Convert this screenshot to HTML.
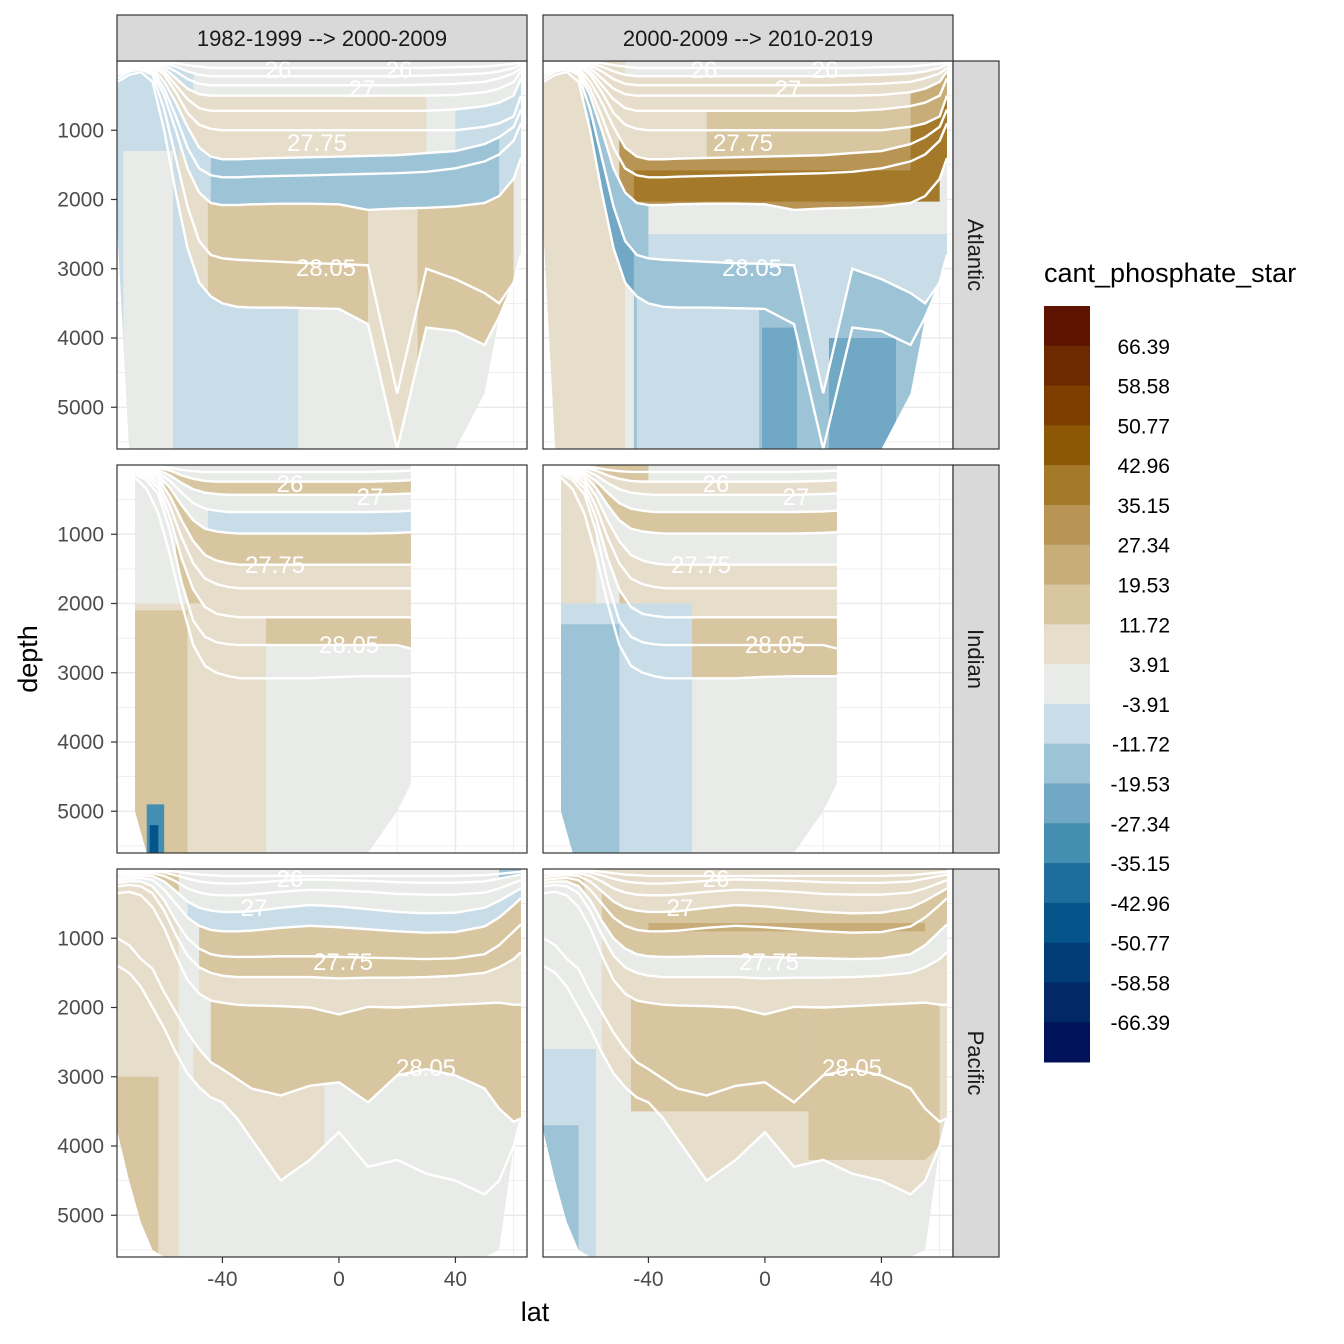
<!DOCTYPE html>
<html><head><meta charset="utf-8">
<style>
body{margin:0;background:#fff;}
svg{display:block;font-family:"Liberation Sans",Arial,sans-serif;}
</style></head>
<body>
<svg id="chart" width="1344" height="1344" viewBox="0 0 1344 1344" xmlns="http://www.w3.org/2000/svg">
<rect x="0" y="0" width="1344" height="1344" fill="#fff"/>
<g id="panels"></g>
<g id="axes"></g>
<g id="legend"></g>
</svg>
<script>
// ---------- data ----------
const colors = ["#5e1300","#6d2a00","#7d3e00","#8c5805","#a47929","#b89555","#c8ad78","#d8c6a0","#e7ddcb","#e9ebe8","#c9dde8","#9cc3d6","#70a8c5","#448eb2","#1d6e9c","#05558a","#023d78","#022966","#00125a"];
const legendLabels = ["66.39","58.58","50.77","42.96","35.15","27.34","19.53","11.72","3.91","-3.91","-11.72","-19.53","-27.34","-35.15","-42.96","-50.77","-58.58","-66.39"];
const colTitles = ["1982-1999 --> 2000-2009","2000-2009 --> 2010-2019"];
const rowTitles = ["Atlantic","Indian","Pacific"];
const depthTicks = [1000,2000,3000,4000,5000];
const latTicks = [-40,0,40];

const latA = [-76,-72,-68,-64,-60,-56,-52,-48,-44,-40,-35,-30,-20,-10,0,10,20,30,40,50,55,60,62.5];
const bottomA = [2500,5600,5600,5600,5600,5600,5600,5600,5600,5600,5600,5600,5600,5600,5600,5600,5600,5600,5600,4800,3700,3200,2800];
const linesA = [
[20,10,5,5,10,30,60,80,100,100,100,100,100,100,100,100,100,100,90,80,60,40,20],
[40,20,10,10,30,80,150,200,220,220,220,220,220,220,220,220,220,210,200,180,150,100,50],
[60,30,20,20,60,150,260,330,350,350,350,350,350,350,350,350,350,340,330,300,250,180,100],
[80,40,30,30,100,250,400,480,500,500,500,500,500,500,500,500,500,500,490,450,400,300,150],
[100,50,40,50,150,350,550,680,720,720,720,720,720,720,720,720,720,720,700,650,600,500,250],
[120,60,50,70,200,450,750,920,980,1000,1000,1000,1000,1000,1000,1000,1000,1000,1000,950,900,800,500],
[150,80,60,100,300,600,950,1250,1380,1420,1420,1410,1400,1390,1380,1370,1360,1330,1300,1200,1100,950,700],
[180,100,80,130,400,800,1250,1550,1650,1680,1680,1670,1660,1650,1640,1630,1620,1600,1550,1450,1350,1150,900],
[200,120,100,160,500,1000,1550,1900,2050,2080,2080,2070,2060,2060,2070,2150,2130,2120,2100,2050,1950,1700,1400],
[250,150,120,200,700,1400,2100,2600,2800,2850,2870,2880,2900,2920,2930,2950,4800,3000,3150,3350,3500,3600,3600],
[300,200,160,300,1000,1900,2700,3200,3400,3500,3550,3560,3560,3570,3580,3800,5600,3850,3900,4100,4300,4500,4500]];

const latI = [-70,-66,-62,-58,-54,-50,-46,-42,-38,-34,-30,-20,-10,0,10,20,24.7];
const bottomI = [5000,5600,5600,5600,5600,5600,5600,5600,5600,5600,5600,5600,5600,5600,5600,5000,4600];
const linesI = [
[10,10,20,40,70,90,100,100,100,100,100,100,100,100,100,90,80],
[20,20,40,80,150,200,230,240,240,240,240,240,240,240,240,230,220],
[30,40,70,150,260,350,400,420,430,430,430,430,430,430,430,420,410],
[40,60,110,230,400,550,630,660,680,680,680,680,680,680,680,670,660],
[50,80,150,330,580,800,920,960,980,990,990,990,990,990,990,980,970],
[60,100,200,450,800,1100,1300,1380,1420,1440,1440,1440,1440,1440,1440,1440,1440],
[80,130,260,600,1050,1420,1640,1720,1760,1780,1780,1780,1780,1780,1780,1780,1780],
[100,170,330,760,1350,1800,2050,2150,2180,2200,2200,2200,2200,2200,2200,2200,2200],
[130,220,420,950,1700,2250,2480,2560,2590,2600,2600,2600,2600,2600,2600,2600,2650],
[180,350,700,1300,2000,2600,2900,3000,3050,3080,3080,3080,3080,3060,3050,3050,3050]];

const latP = [-76,-72,-68,-64,-60,-56,-52,-48,-44,-40,-35,-30,-20,-10,0,10,20,30,40,50,55,60,62.5];
const bottomP = [3800,4500,5100,5500,5600,5600,5600,5600,5600,5600,5600,5600,5600,5600,5600,5600,5600,5600,5600,5600,5500,4000,3600];
const linesP = [
[30,20,10,10,20,40,60,80,90,100,100,100,100,100,100,100,100,100,100,90,70,50,40],
[50,40,30,30,50,90,140,180,200,210,210,200,170,150,160,170,190,200,200,180,140,100,80],
[80,70,60,60,100,180,280,340,370,380,380,370,330,300,310,330,360,370,370,340,280,200,160],
[120,100,90,100,180,320,470,560,600,620,620,610,560,520,540,580,620,640,630,560,460,340,280],
[160,140,130,160,300,500,700,820,880,900,900,890,850,820,840,870,900,920,910,830,700,520,420],
[200,180,180,250,450,750,1000,1150,1230,1260,1270,1270,1260,1260,1270,1280,1290,1300,1290,1230,1100,900,800],
[250,230,250,350,600,950,1250,1420,1500,1540,1560,1560,1560,1560,1580,1570,1570,1560,1540,1500,1420,1300,1200],
[350,330,380,550,850,1250,1600,1800,1900,1930,1960,1970,1980,2000,2100,1990,2000,1980,1960,1940,1930,1960,1960],
[1000,1100,1300,1440,1780,2070,2360,2600,2790,2890,3030,3170,3270,3130,3080,3370,2980,2890,2980,3170,3460,3650,3650],
[1400,1500,1700,2000,2300,2650,2950,3150,3300,3370,3600,3900,4500,4200,3800,4300,4200,4400,4500,4700,4500,4400,4400]];

// bands: [colorIndex, top, bottom, latFrom, latTo]; top/bottom = line index, -1 surface, 99 bottom, or {d:depth}
const bandsAL = [[7,-1,1,-76,-60],[10,1,99,-76,-50],[9,{d:1300},99,-74,-57],[8,3,6,-66,30],[10,4,6,40,62.5],[10,6,8,-52,62.5],[11,6,8,-44,55],[8,8,10,-55,60],[7,8,10,-45,10],[7,8,10,27,60],[10,10,99,-56,-14]];
const bandsAR = [[8,-1,99,-76,-48],[11,-1,5,-76,-60],[12,0,4,-76,-64],[8,1,6,-64,62.5],[7,4,6,-20,62.5],[6,3,6,50,62.5],[5,6,8,-50,62.5],[4,{d:1580},{d:2030},-45,60],[4,5,8,50,62.5],[10,{d:2500},9,-48,62.5],[11,8,10,-62,-40],[12,9,10,-60,-42],[11,9,99,-45,62.5],[10,10,99,-44,-2],[12,{d:3850},99,-1,11],[12,{d:4000},99,22,45]];
const bandsIL = [[7,1,2,-66,24.7],[10,3,4,-45,24.7],[7,4,5,-60,24.7],[8,5,6,-60,24.7],[8,6,7,-58,24.7],[7,7,8,-56,24.7],[8,{d:2000},99,-70,-25],[7,{d:2100},99,-70,-52],[13,{d:4900},99,-66,-60],[15,{d:5200},99,-65,-62]];
const bandsIR = [[7,-1,1,-70,-40],[8,1,2,-62,24.7],[7,3,4,-60,24.7],[8,5,7,-58,24.7],[7,7,9,-50,24.7],[8,-1,{d:2000},-70,-58],[10,{d:2000},99,-70,-25],[11,{d:2300},99,-70,-50]];
const bandsPL = [[7,0,3,-76,-55],[10,3,4,-52,62.5],[11,-1,1,55,62.5],[7,4,6,-48,62.5],[8,6,7,-48,62.5],[7,7,8,-44,62.5],[8,5,99,-76,-55],[7,{d:3000},99,-76,-62],[8,8,9,-50,-5]];
const bandsPR = [[8,-1,5,-70,62.5],[7,3,5,-56,62.5],[6,{d:780},{d:900},-40,55],[7,0,5,-76,-62],[8,6,7,-56,62.5],[8,7,9,-56,62.5],[7,7,{d:3500},-46,15],[7,7,{d:4200},15,60],[10,{d:2600},99,-76,-58],[11,{d:3700},99,-76,-64]];

// ---------- drawing ----------
const NS="http://www.w3.org/2000/svg";
function mk(tag, attrs, parent){const e=document.createElementNS(NS,tag);for(const k in attrs)e.setAttribute(k,attrs[k]);parent.appendChild(e);return e;}
const colX=[117,543], rowY=[61,465,869], PW=410, PH=388;
const KX=2.9125, KY=0.06925;
function interp(xs, ys, x){
  if(x<=xs[0])return ys[0];
  for(let i=1;i<xs.length;i++){if(x<=xs[i]){const t=(x-xs[i-1])/(xs[i]-xs[i-1]);return ys[i-1]+t*(ys[i]-ys[i-1]);}}
  return ys[ys.length-1];
}
const basins=[{lat:latA,bot:bottomA,lines:linesA},{lat:latI,bot:bottomI,lines:linesI},{lat:latP,bot:bottomP,lines:linesP}];
const panelBands=[[bandsAL,bandsAR],[bandsIL,bandsIR],[bandsPL,bandsPR]];
const panelsG=document.getElementById('panels');

function depthOf(spec,b,lat){
  if(spec===-1)return 0;
  if(spec===99)return interp(b.lat,b.bot,lat);
  if(typeof spec==='object')return spec.d;
  return interp(b.lat,b.lines[spec],lat);
}
for(let r=0;r<3;r++){for(let c=0;c<2;c++){
  const x0=colX[c], y0=rowY[r], b=basins[r];
  const X=lat=>x0+(lat+76.2)*KX, Y=d=>y0+d*KY;
  const g=mk('g',{},panelsG);
  
  
  const cid='clip'+r+c;
  const cp=mk('clipPath',{id:cid},g);mk('rect',{x:x0,y:y0,width:PW,height:PH},cp);
  mk('rect',{x:x0,y:y0,width:PW,height:PH,fill:'#fff'},g);
  const grid=mk('g',{'clip-path':'url(#'+cid+')'},g);
  
  
  for(let d=500;d<=5500;d+=500){mk('line',{x1:x0,x2:x0+PW,y1:Y(d),y2:Y(d),stroke:'#ebebeb','stroke-width':d%1000?0.8:1.6},grid);}
  for(let l=-60;l<=60;l+=20){mk('line',{y1:y0,y2:y0+PH,x1:X(l),x2:X(l),stroke:'#ebebeb','stroke-width':l%40?0.8:1.6},grid);}
  const fill=mk('g',{'clip-path':'url(#'+cid+')'},g);
  let pts=b.lat.map(l=>X(l)+','+Y(0));
  for(let i=b.lat.length-1;i>=0;i--)pts.push(X(b.lat[i])+','+Y(b.bot[i]));
  const base=mk('polygon',{points:pts.join(' '),fill:colors[9]},fill);
  
  
  panelBands[r][c].forEach(bd=>{
    const [ci,t,bt,a,z]=bd;
    const ls=[a].concat(b.lat.filter(l=>l>a&&l<z)).concat([z]);
    const top=[],bo=[];
    ls.forEach(l=>{const bottom=interp(b.lat,b.bot,l);let d1=Math.min(depthOf(t,b,l),bottom),d2=Math.min(depthOf(bt,b,l),bottom);if(d2<d1)d2=d1;top.push(X(l)+','+Y(d1));bo.unshift(X(l)+','+Y(d2));});
    const p=mk('polygon',{points:top.concat(bo).join(' '),fill:colors[ci]},fill);
    
    
  });
  b.lines.forEach(arr=>{
    const p=b.lat.map((l,i)=>X(l)+','+Y(Math.min(arr[i],b.bot[i]))).join(' ');
    const pl=mk('polyline',{points:p,fill:'none',stroke:'#fff','stroke-width':2.4},fill);
    
    
  });
  mk('rect',{x:x0,y:y0,width:PW,height:PH,fill:'none',stroke:'#333','stroke-width':1.2},g);
}}
const clabels=[
 [0,"26",278,78],[0,"26",399,78],[0,"27",362,97],[0,"27.75",317,151],[0,"28.05",326,276],
 [1,"26",290,492],[1,"27",370,505],[1,"27.75",275,573],[1,"28.05",349,653],
 [2,"26",290,887],[2,"27",254,916],[2,"27.75",343,970],[2,"28.05",426,1076]];
clabels.forEach(([r,t,x,y])=>{[0,426].forEach(dx=>{
  const e=mk('text',{x:x+dx,y:y,'font-size':24,fill:'#fff','text-anchor':'middle'},panelsG);e.textContent=t;
  
  
});});
const ax=document.getElementById('axes');
colTitles.forEach((t,c)=>{
  const s=mk('rect',{x:colX[c],y:15,width:PW,height:46,fill:'#d9d9d9',stroke:'#333','stroke-width':1.2},ax);
  
  
  const e=mk('text',{x:colX[c]+PW/2,y:46,'font-size':22,fill:'#1a1a1a','text-anchor':'middle'},ax);e.textContent=t;
  
  
});
rowTitles.forEach((t,r)=>{
  const s=mk('rect',{x:953,y:rowY[r],width:46,height:PH,fill:'#d9d9d9',stroke:'#333','stroke-width':1.2},ax);
  
  
  const cx=968,cy=rowY[r]+PH/2;
  const e=mk('text',{x:cx,y:cy,'font-size':22,fill:'#1a1a1a','text-anchor':'middle',transform:'rotate(90 '+cx+' '+cy+')'},ax);e.textContent=t;
  
  
});
rowY.forEach(y0=>{depthTicks.forEach(d=>{
  const y=y0+d*KY;
  mk('line',{x1:111,x2:117,y1:y,y2:y,stroke:'#333','stroke-width':1.2},ax);
  const e=mk('text',{x:104,y:y+7,'font-size':21,fill:'#4d4d4d','text-anchor':'end'},ax);e.textContent=d;
  
  
});});
colX.forEach(x0=>{latTicks.forEach(l=>{
  const x=x0+(l+76.2)*KX;
  mk('line',{x1:x,x2:x,y1:1257,y2:1263,stroke:'#333','stroke-width':1.2},ax);
  const e=mk('text',{x:x,y:1286,'font-size':21,fill:'#4d4d4d','text-anchor':'middle'},ax);e.textContent=l;
  
  
});});
let e=mk('text',{x:535,y:1321,'font-size':27,fill:'#000','text-anchor':'middle'},ax);e.textContent='lat';


e=mk('text',{x:37,y:659,'font-size':27,fill:'#000','text-anchor':'middle',transform:'rotate(-90 37 659)'},ax);e.textContent='depth';


const lg=document.getElementById('legend');
e=mk('text',{x:1044,y:282,'font-size':27,fill:'#000'},lg);e.textContent='cant_phosphate_star';


const bh=(1062-306)/colors.length;
colors.forEach((c,i)=>{
  const r=mk('rect',{x:1044,y:306+i*bh,width:46,height:bh+0.5,fill:c},lg);
  
  
});
legendLabels.forEach((t,i)=>{
  const t2=mk('text',{x:1170,y:306+(i+1)*bh+8,'font-size':21,fill:'#000','text-anchor':'end'},lg);t2.textContent=t;
  
  
});
</script>
</body></html>
